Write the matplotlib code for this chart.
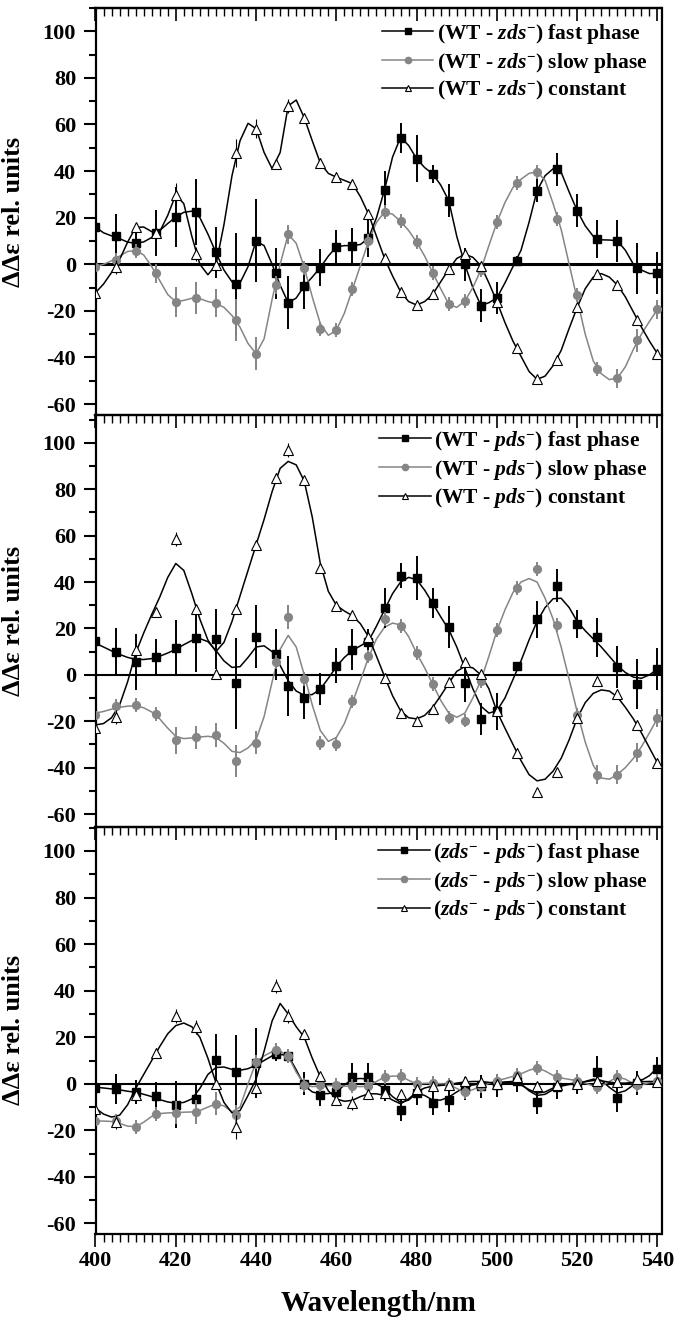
import numpy as np
import matplotlib
matplotlib.use("Agg")
import matplotlib.pyplot as plt
from matplotlib.ticker import MultipleLocator
from matplotlib.lines import Line2D

plt.rcParams['font.family'] = ['Liberation Serif', 'DejaVu Serif']
plt.rcParams['font.weight'] = 'bold'
plt.rcParams['axes.unicode_minus'] = False
plt.rcParams['mathtext.fontset'] = 'custom'
plt.rcParams['mathtext.rm'] = 'Liberation Serif:bold'
plt.rcParams['mathtext.bf'] = 'Liberation Serif:bold'
plt.rcParams['mathtext.it'] = 'Liberation Serif:italic:bold'

# measured wavelengths (nm)
wl = [400, 405, 410, 415, 420, 425, 430, 435, 440, 445, 448, 452, 456, 460, 464, 468,
      472, 476, 480, 484, 488, 492, 496, 500, 505, 510, 515, 520, 525, 530, 535, 540]

# ---- panel 1: WT - zds ----
fast1 = [16, 12, 9, 13.4, 20.3, 22.4, 5.2, -8.6, 10.2, -3.9, -16.5, -9.3, -1.4, 7.5, 8, 11.2,
         31.9, 54.3, 45.3, 38.8, 27.3, 0, -17.7, -14.4, 1.4, 31.6, 40.7, 23, 10.9, 10.1, -1.7, -3.9]
fast1_err = [5, 9.5, 5, 10, 13, 14, 11, 22, 18, 11, 11.5, 10, 8, 7, 7.5, 8,
             8, 6.5, 10, 4, 7, 7, 7, 7, 2, 5, 7, 7, 8, 9, 11, 9]
slow1 = [-1, 1.9, 5.9, -3.9, -16.1, -14.4, -16.8, -24, -38.4, -8.9, 12.9, -1.4, -27.6, -28.3, -10.8, 9.8,
         22.4, 18.4, 9.5, -3.6, -17.1, -15.8, -2.4, 18, 34.9, 39.7, 19.5, -13, -44.8, -48.9, -32.6, -19.4]
slow1_err = [4, 3, 3, 4, 6.5, 7, 6, 9, 7, 4, 4, 3, 3, 3, 3, 3,
             3, 3, 3, 3, 3, 3, 3, 3, 3, 3, 3, 3, 3, 4, 5, 4]
const1 = [-12.2, -1, 15.8, 13.4, 29.9, 4.3, -0.3, 47.6, 58.2, 43.1, 68, 62.9, 43.5, 37.4, 34.6, 21.6,
          2.6, -11.8, -17.5, -12.9, -2.2, 4.3, -0.6, -16.1, -35.9, -49.4, -41, -18.5, -4.3, -8.9, -24, -38.4]
const1_err = [2, 3, 2, 2, 5, 3, 2, 6, 4, 2, 3, 2, 2, 2, 2, 2,
              2, 2, 2, 2, 2, 2, 2, 2, 2, 2, 2, 2, 2, 2, 2, 2]

# ---- panel 2: WT - pds ----
fast2 = [14.4, 9.8, 5.5, 7.6, 11.5, 15.8, 15.4, -3.6, 16.5, 8.9, -4.7, -10.1, -6.2, 4, 10.8, 14.1,
         28.7, 42.8, 41.7, 30.9, 20.5, -3.6, -19, -15.8, 3.6, 24, 38.5, 22, 16.1, 3.3, -3.9, 2.4]
fast2_err = [8, 10.5, 12, 8, 12, 14.5, 13, 19.6, 13.6, 11, 13, 9, 7, 7.5, 8.8, 5.5,
             8.6, 5.4, 9.5, 6.5, 9, 8, 7, 8, 2, 8, 7, 6, 8.6, 9, 10.8, 9]
slow2 = [-17.2, -13.6, -13.2, -17, -28.3, -26.9, -25.9, -37.1, -29.2, 5.5, 24.9, -1.9, -29.5, -29.9, -11.5, 7.9,
         24, 21.1, 9.3, -3.9, -18.4, -19.7, -2.6, 19.4, 37.6, 45.7, 21.3, -17.2, -43, -43, -33.5, -18.7]
slow2_err = [4, 3, 3, 3, 6, 5, 5, 7, 5, 3, 5, 3, 3, 3, 3, 3,
             3, 3, 3, 3, 3, 3, 3, 3, 3, 3, 3, 3, 4, 4, 4, 4]
const2 = [-23, -18.2, 10.5, 27, 58.5, 28.3, 0.3, 28.3, 56, 85, 97, 83.8, 46, 29.7, 25.9, 16.5,
          -1.4, -16.5, -20.1, -14.8, -3.3, 5.7, 0.4, -15.4, -33.5, -50.7, -42.1, -18.7, -2.6, -8.3, -21.6, -37.8]
const2_err = [2, 3, 2, 2, 3, 2, 2, 2, 2, 2, 3, 2, 2, 2, 2, 2,
              2, 2, 2, 2, 2, 2, 2, 2, 2, 2, 2, 2, 2, 2, 2, 2]

# ---- panel 3: zds - pds ----
fast3 = [-2, -2.3, -3.5, -5.4, -9, -6.7, 10.3, 5, 9, 13, 12, 0, -4.7, -3.6, 2.9, 2.9,
         -2.6, -11.1, -4, -8.3, -6.9, -2.1, -1.1, -0.7, 1.4, -7.9, -1.4, -0.3, 5, -6, 0.3, 6.4]
fast3_err = [5, 6.5, 5, 6, 10, 7, 11, 16, 15, 3, 3, 5, 5, 5, 6, 6,
             5, 5, 5, 5, 5, 5, 5, 5, 5, 5, 5, 4, 7, 6, 5, 5]
slow3 = [-16.1, -16.1, -18.6, -12.9, -12.4, -12.1, -8.6, -13.3, 9.3, 14.4, 11.8, -0.4, -0.7, -0.7, -1.1, -1.1,
         2.9, 3.3, 0, 0.3, -0.3, -3.6, -1.1, 1.4, 3.6, 6.9, 2.9, 1.4, -1.4, 2.9, -0.7, 1.4]
slow3_err = [3, 3, 3, 3, 5, 5, 5, 4, 3, 3, 3, 3, 3, 3, 3, 3,
             3, 3, 3, 3, 3, 3, 3, 3, 3, 3, 3, 3, 3, 3, 3, 3]
const3 = [-10.7, -16.4, -5, 13.4, 29, 24.4, -0.3, -18.6, -1.7, 42, 29.2, 21.3, 3.2, -7.1, -8.3, -4.3,
          -3.9, -4.3, -2.1, -1.1, -0.7, 1, 0.7, 0, 2.9, -1.1, -0.7, 0, 1.4, 0.7, 2.1, 0.7]
const3_err = [2, 3, 2, 2, 3, 3, 2, 5, 2, 3, 3, 2, 2, 2, 3, 2,
              2, 2, 2, 2, 2, 2, 2, 2, 2, 2, 2, 2, 2, 2, 2, 2]

fit_wl = np.arange(400, 541, 2)

fast1_fit = [16, 13.5, 12.2, 11, 9.5, 9, 9.6, 11.5, 14.5, 17.5,
             20.3, 22.3, 22.8, 20, 13, 5, -2.5, -7.5, -8, -1,
             10, 8, 0, -9, -16.5, -14.5, -9.3, -5.5, -1.4, 3.5,
             7.5, 8, 8, 8.5, 11.2, 20, 31.9, 46, 54.5, 51,
             45.3, 41.5, 38.8, 34, 27.3, 12, 0, -10, -17.7, -16.5,
             -14.4, -8, -1, 6, 18, 31.6, 38, 41, 39.5, 31,
             23, 16.5, 12, 10.5, 10.4, 10.1, 6, 0, -2.5, -4,
             -3.9]
slow1_fit = [-1, 0, 1.5, 3.5, 5.5, 5.9, 4, -1, -7, -13,
             -16.1, -15.5, -14.6, -14.8, -16, -16.8, -18.5, -22, -27, -34,
             -38.4, -32, -15, 0, 12.9, 9, -1.4, -14, -25.5, -30.5,
             -28.3, -21, -10.8, -0.5, 9.8, 18, 22.4, 21.5, 18.4, 14.5,
             9.5, 3.5, -3.6, -10.5, -17.1, -18.5, -15.8, -10, -2.4, 8,
             18, 26.5, 33, 36.5, 39, 39.7, 36, 26, 15, 0,
             -15, -30, -41.5, -47, -49.5, -48.9, -44, -36.5, -30, -24.5,
             -19.4]
const1_fit = [-12.2, -8.5, -3.5, 2, 9.5, 15.8, 16, 14, 14, 21,
              29.9, 26, 12, 0, -4.5, -0.3, 17, 38, 53, 60.5,
              58.2, 48, 41, 48, 68, 70.5, 62.9, 53, 43.5, 39,
              37.4, 36, 34.6, 29, 21.6, 12, 2.6, -5, -11.8, -16,
              -17.5, -16, -12.9, -7.5, -2.2, 2.5, 4.3, 3, -0.6, -8,
              -16.1, -25, -33, -39.5, -46, -49.4, -48, -43.5, -37, -27.5,
              -18.5, -10.5, -5.5, -4, -5.5, -8.9, -14, -20.5, -27, -33,
              -38.4]

fast2_fit = [13.6, 12, 10.3, 8.8, 7.5, 6.7, 6.6, 7, 8, 9.4,
             11, 13, 14.8, 15.6, 14.3, 10.5, 6, 3.2, 3.5, 7.5,
             12, 12.5, 10, 4, -2.5, -7, -8.8, -8.5, -6.2, -1.5,
             3.5, 7.5, 10.5, 12.5, 14.5, 21, 28, 35, 40, 42,
             41, 36.5, 30.8, 25, 19.5, 12, 3, -6, -13.5, -16.5,
             -15.5, -10, -2, 6, 15, 23, 29, 32.8, 33, 29,
             23, 19, 15.5, 12, 8, 4, 1, -1, -1.5, 0,
             2.4]
slow2_fit = [-16.5, -15.8, -14.8, -14, -13.5, -13.4, -14.2, -16, -19, -23,
             -26.5, -27.5, -27.2, -26.8, -26.5, -27, -29.5, -33, -33.5, -31.5,
             -28, -18, -3, 11, 17, 12, 0, -13, -24, -28.7,
             -27, -21, -12, -2.5, 7.5, 15.5, 20.5, 22.3, 21.5, 16.5,
             9.3, 3, -4, -11, -16.5, -18.3, -16.5, -10, -2.5, 8,
             19, 28, 35.5, 40, 41.5, 40, 33, 24, 12, -2,
             -16, -29, -39, -44.5, -45, -43, -40, -36, -31, -25,
             -18.7]
const2_fit = [-21.6, -21, -18.5, -13, -3, 9.3, 18, 26, 33.5, 42,
              48, 45, 35, 24, 15, 10, 14, 23, 34, 45,
              56, 67, 79, 89, 92, 90.5, 83.5, 68, 48, 36,
              30, 27.5, 25.5, 22, 16.5, 8, -0.7, -9, -15.5, -18.5,
              -19, -17.5, -14, -9, -3.6, 1.5, 3.6, 3, 0, -6,
              -15.8, -23, -30, -37, -43, -45.7, -45, -41.5, -36, -28,
              -18.7, -12, -8, -6.5, -7, -9.5, -14, -19, -25, -31.5,
              -38]

fast3_fit = [-1.5, -1.8, -2.2, -2.6, -3.2, -3.6, -4.5, -5.5, -6.8, -7.8,
             -8.3, -8, -6.5, -2, 4, 7, 7.2, 6.2, 5.8, 6.5,
             8, 10, 12, 12.6, 12.2, 6, -0.7, -3.5, -4.3, -4.2,
             -3.6, -0.5, 2, 2.3, 2, 0, -2, -5.5, -8, -7,
             -4, -5, -7, -7, -5.7, -3.5, -1.5, -0.5, 0, 0.3,
             0.5, 0.8, 1, 0, -3, -5, -4.5, -2.5, -1, -0.3,
             0, 1, 2, 1.5, -1.5, -4, -3, -0.5, 1.5, 3.5,
             7]
slow3_fit = [-16, -16, -16.2, -17, -18.2, -18.4, -16.5, -14, -12.8, -12.5,
             -12.4, -12.2, -12.1, -11.5, -10, -8.6, -9.5, -12, -10, 0,
             9.3, 12, 13.8, 14, 11.8, 5, -0.4, -1.2, -1, -0.8,
             -0.7, -1, -1.1, -1.2, -1.1, 1, 2.9, 3.3, 3.3, 1.5,
             0, 0.2, 0.3, 0, -0.3, -2, -3.6, -2.5, -1.1, 0.2,
             1.4, 2.2, 3.2, 4.3, 5.8, 6.9, 5.5, 3.6, 2.5, 1.9,
             1.4, 0.3, -1, -1, 1, 2.9, 2, 0, -0.5, 0.5,
             1.4]
const3_fit = [-10.5, -13, -14.3, -13.5, -9, -2, 4, 10, 16, 21.5,
              25, 26.1, 24.5, 20, 11, 0.5, -8, -12.5, -11.5, -5,
              2, 14, 27, 34.5, 30, 24.5, 20, 11, 3, -3,
              -6.5, -7.5, -7.1, -5.5, -4.3, -4.3, -5, -7, -8.6, -6.5,
              -3.5, -1.8, -1, -0.7, -0.4, 0.3, 0.8, 1, 1, 0.6,
              0.3, 0.5, 0.8, -0.5, -2.5, -4, -3.5, -1.8, -0.5, 0,
              0.3, 0.9, 1.4, 1.3, 0.7, 0.3, 0.3, 0.6, 0.9, 1,
              1]

zds = r'$\mathit{zds}^{-}$'
pds = r'$\mathit{pds}^{-}$'
names = ['(WT - ' + zds + ')', '(WT - ' + pds + ')', '(' + zds + ' - ' + pds + ')']

GRAY = '#858585'


def draw_panel(ax, data, fits, name, zero_lw):
    fast, fast_err, slow, slow_err, const, const_err = data
    fast_fit, slow_fit, const_fit = fits
    ax.axhline(0, color='k', lw=zero_lw, zorder=1)
    ax.plot(fit_wl, fast_fit, color='k', lw=1.1, zorder=2)
    ax.plot(fit_wl, slow_fit, color=GRAY, lw=1.1, zorder=2)
    ax.plot(fit_wl, const_fit, color='k', lw=1.1, zorder=2)
    ax.errorbar(wl, fast, yerr=fast_err, fmt='s', color='k', ms=5.2,
                elinewidth=1.4, capsize=0, zorder=3)
    ax.errorbar(wl, slow, yerr=slow_err, fmt='o', color=GRAY, ms=5.6,
                elinewidth=1.4, capsize=0, zorder=4)
    ax.errorbar(wl, const, yerr=const_err, fmt='^', color='k', mfc='white',
                mec='k', mew=0.8, ms=6.5, elinewidth=0.8, capsize=0, zorder=5)

    handles = [
        Line2D([], [], color='k', lw=1.1, marker='s', ms=4.5),
        Line2D([], [], color=GRAY, lw=1.1, marker='o', ms=4.5),
        Line2D([], [], color='k', lw=1.1, marker='^', ms=5, mfc='white', mec='k', mew=0.8),
    ]
    labels = [name + ' fast phase', name + ' slow phase', name + ' constant']
    ax.legend(handles, labels, loc='upper right', bbox_to_anchor=(1.0, 1.0),
              frameon=False, fontsize=15.5, handlelength=2.4, handletextpad=0.15,
              labelspacing=0.22, borderaxespad=0.45, borderpad=0.2)

    ax.set_xlim(400, 541)
    ax.xaxis.set_major_locator(MultipleLocator(20))
    ax.xaxis.set_minor_locator(MultipleLocator(2))
    ax.yaxis.set_major_locator(MultipleLocator(20))
    ax.yaxis.set_minor_locator(MultipleLocator(10))
    ax.tick_params(axis='x', which='major', direction='out', length=9, width=1.2, labelsize=16)
    ax.tick_params(axis='x', which='minor', direction='out', length=5.5, width=1.0)
    ax.tick_params(axis='y', which='major', direction='out', length=9, width=1.5, labelsize=16, pad=5)
    ax.tick_params(axis='y', which='minor', direction='out', length=5, width=1.5)
    for s in ax.spines.values():
        s.set_linewidth(1.6)
    ax.patch.set_alpha(0)
    ax.set_ylabel('ΔΔε rel. units', fontsize=19, fontweight='bold')
    ax.yaxis.set_label_coords(-0.125, 0.5)


fig = plt.figure(figsize=(6.75, 13.25), dpi=100)
left = 95.5 / 675
width = (661.5 - 95.5) / 675
ax1 = fig.add_axes([left, 1 - 415 / 1325, width, 407 / 1325])
ax2 = fig.add_axes([left, 1 - 827 / 1325, width, 412 / 1325])
ax3 = fig.add_axes([left, 1 - 1233.5 / 1325, width, 406.5 / 1325])

draw_panel(ax1, (fast1, fast1_err, slow1, slow1_err, const1, const1_err),
           (fast1_fit, slow1_fit, const1_fit), names[0], 2.2)
draw_panel(ax2, (fast2, fast2_err, slow2, slow2_err, const2, const2_err),
           (fast2_fit, slow2_fit, const2_fit), names[1], 1.5)
draw_panel(ax3, (fast3, fast3_err, slow3, slow3_err, const3, const3_err),
           (fast3_fit, slow3_fit, const3_fit), names[2], 1.5)

ax1.set_ylim(-64.7, 110)
ax2.set_ylim(-65.6, 112)
ax3.set_ylim(-64.3, 110.3)
ax1.tick_params(axis='x', labelbottom=False)
ax2.tick_params(axis='x', labelbottom=False)

# inward ticks along the very top edge
top = ax1.secondary_xaxis('top')
top.xaxis.set_major_locator(MultipleLocator(20))
top.xaxis.set_minor_locator(MultipleLocator(2))
top.tick_params(axis='x', which='major', direction='in', length=9, width=1.2, labeltop=False)
top.tick_params(axis='x', which='minor', direction='in', length=5.5, width=1.0)
top.spines['top'].set_linewidth(1.6)

ax3.set_xlabel('Wavelength/nm', fontsize=21, fontweight='bold', labelpad=14)

fig.savefig('out.png', dpi=100)
